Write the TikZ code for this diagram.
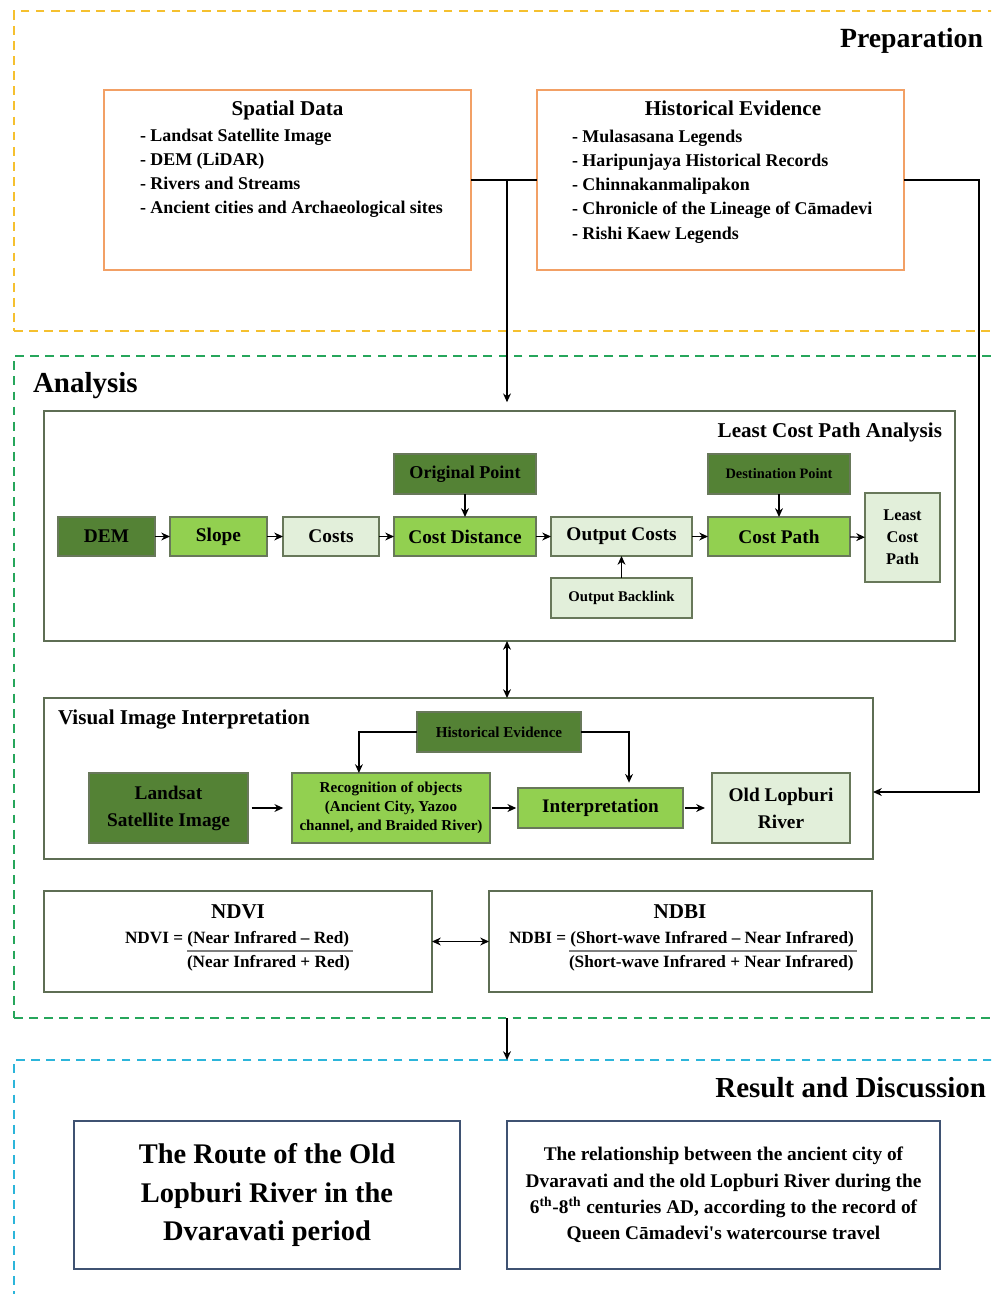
\documentclass[tikz,border=0pt]{standalone}
\usepackage{fontspec}
\setmainfont{Liberation Serif}
\usetikzlibrary{arrows.meta,calc}
\definecolor{yellowc}{HTML}{F5C02F}
\definecolor{greenc}{HTML}{26A65B}
\definecolor{bluec}{HTML}{2CB5DA}
\definecolor{orangec}{HTML}{F2A065}
\definecolor{dkgreen}{HTML}{548235}
\definecolor{ltgreen}{HTML}{92D050}
\definecolor{palegreen}{HTML}{E2EFDA}
\definecolor{nodeborder}{HTML}{68785A}
\definecolor{contborder}{HTML}{5E6E54}
\definecolor{slate}{HTML}{3F5272}
\newcommand\fs[2]{\fontsize{#1}{#2}\selectfont}
\newcommand\pbox[7]{\node[#6, anchor=north west, minimum width={(#4-#2)*0.02cm}, minimum height={(#5-#3)*0.02cm}] (#1) at (#2,#3) {#7};}
\tikzset{
 base/.style={inner sep=1pt, outer sep=0pt, align=center},
 frame/.style={base, dash pattern=on 5pt off 3.6pt, line width=1.3pt},
 orbox/.style={base, draw=orangec, line width=1pt},
 cont/.style={base, draw=contborder, line width=1.1pt},
 dk/.style={base, draw=nodeborder, fill=dkgreen, line width=0.8pt},
 lt/.style={base, draw=nodeborder, fill=ltgreen, line width=0.8pt},
 pl/.style={base, draw=nodeborder, fill=palegreen, line width=0.8pt},
 resbox/.style={base, draw=slate, line width=0.7pt},
 lbl/.style={inner sep=0pt, outer sep=0pt},
 arr/.style={-{Stealth[length=5pt,width=4.5pt]}, line width=0.7pt},
 arrtwo/.style={{Stealth[length=5pt,width=4.5pt]}-{Stealth[length=5pt,width=4.5pt]}, line width=0.7pt},
}
\begin{document}
\begin{tikzpicture}[x=0.02cm, y=-0.02cm, font=\bfseries]
\clip (0,0) rectangle (991,1294);
\fill[white] (0,0) rectangle (991,1294);
% frames
\pbox{prep}{14}{11}{1010}{331}{frame, draw=yellowc}{}
\pbox{ana}{14}{356}{1010}{1018}{frame, draw=greenc}{}
\pbox{res}{14}{1060}{1010}{1330}{frame, draw=bluec}{}
\node[lbl, anchor=east, font=\fs{15.8}{19}\bfseries] (tprep) at (983,41) {Preparation};
\node[lbl, anchor=west, font=\fs{16.5}{19}\bfseries] (tana) at (33,386) {Analysis};
\node[lbl, anchor=east, font=\fs{16.5}{19}\bfseries] (tres) at (986,1088) {Result and Discussion};
% preparation
\pbox{sd}{104}{90}{471}{270}{orbox}{}
\pbox{he}{537}{90}{904}{270}{orbox}{}
\node[lbl, anchor=base, font=\fs{12}{15}\bfseries] (sdt) at (287.5,116) {Spatial Data};
\node[lbl, anchor=base, font=\fs{12}{15}\bfseries] (het) at (733,116) {Historical Evidence};
\foreach \t [count=\i] in {Landsat Satellite Image, DEM (LiDAR), Rivers and Streams, Ancient cities and Archaeological sites}
  \node[lbl, anchor=base west, font=\fs{10.2}{12}\bfseries] (sd\i) at (140,{118+24*\i}) {- \t};
\foreach \t [count=\i] in {Mulasasana Legends, Haripunjaya Historical Records, Chinnakanmalipakon, Chronicle of the Lineage of Cāmadevi, Rishi Kaew Legends}
  \node[lbl, anchor=base west, font=\fs{10.2}{12}\bfseries] (he\i) at (572,{118+24.2*\i}) {- \t};
% LCP
\pbox{lcp}{44}{411}{955}{641}{cont}{}
\node[lbl, anchor=east, font=\fs{12}{14}\bfseries] (lcpt) at (942,432) {Least Cost Path Analysis};
\pbox{dem}{58}{517}{155}{556}{dk, font=\fs{11}{13}\bfseries}{DEM}
\pbox{slope}{170}{517}{267}{556}{lt, font=\fs{11}{13}\bfseries}{Slope}
\pbox{costs}{283}{517}{379}{556}{pl, font=\fs{11}{13}\bfseries}{Costs}
\pbox{cdist}{394}{517}{536}{556}{lt, font=\fs{11}{13}\bfseries}{Cost Distance}
\pbox{orig}{394}{454}{536}{494}{dk, font=\fs{10.3}{13}\bfseries}{Original Point}
\pbox{ocost}{551}{517}{692}{556}{pl, font=\fs{11}{13}\bfseries}{Output Costs}
\pbox{oback}{551}{578}{692}{618}{pl, font=\fs{8.4}{10}\bfseries}{Output Backlink}
\pbox{dest}{708}{454}{850}{494}{dk, font=\fs{8.2}{10}\bfseries}{Destination Point}
\pbox{cpath}{708}{517}{850}{556}{lt, font=\fs{11}{13}\bfseries}{Cost Path}
\pbox{lcpn}{865}{493}{940}{582}{pl, font=\fs{9.3}{12.5}\bfseries}{Least\\Cost\\Path}
\draw[arr] (dem) -- (slope);
\draw[arr] (slope) -- (costs);
\draw[arr] (costs) -- (cdist);
\draw[arr] (cdist) -- (ocost);
\draw[arr] (ocost) -- (cpath);
\draw[arr] (cpath) -- (lcpn);
\draw[arr] (orig) -- (cdist);
\draw[arr] (dest) -- (cpath);
\draw[arr] (oback) -- (ocost);
% visual interpretation
\pbox{vii}{44}{698}{873}{859}{cont}{}
\node[lbl, anchor=west, font=\fs{12}{14}\bfseries] (viit) at (58,720) {Visual Image Interpretation};
\pbox{hev}{417}{712}{581}{752}{dk, font=\fs{8.6}{10}\bfseries}{Historical Evidence}
\pbox{land}{89}{773}{248}{843}{dk, font=\fs{11}{15.3}\bfseries}{Landsat\\Satellite Image}
\pbox{rec}{292}{773}{490}{843}{lt, font=\fs{8.6}{10.8}\bfseries}{Recognition of objects\\(Ancient City, Yazoo\\channel, and Braided River)}
\pbox{interp}{518}{788}{683}{828}{lt, font=\fs{10.9}{13}\bfseries}{Interpretation}
\pbox{olr}{712}{773}{850}{843}{pl, font=\fs{11}{15.3}\bfseries}{Old Lopburi\\River}
\draw[arr, shorten <=2pt, shorten >=5pt] (land) -- (rec);
\draw[arr, shorten <=1pt, shorten >=1pt] (rec.east |- interp.west) -- (interp.west);
\draw[arr, shorten <=1pt, shorten >=4pt] (interp) -- (olr.west |- interp.east);
\draw[arr] (hev.west) -| ($(rec.north west)!0.338!(rec.north east)$);
\draw[arr, shorten >=3pt] (hev.east) -| ($(interp.north west)!0.673!(interp.north east)$);
% NDVI / NDBI
\pbox{ndvi}{44}{891}{432}{992}{cont, line width=0.9pt}{}
\pbox{ndbi}{489}{891}{872}{992}{cont, line width=0.9pt}{}
\node[lbl, font=\fs{12}{14}\bfseries] (ndvit) at (238,912) {NDVI};
\node[lbl, font=\fs{12}{14}\bfseries] (ndbit) at (680,912) {NDBI};
\node[lbl, anchor=west, font=\fs{9.8}{12}\bfseries] (ndvin) at (125,939) {NDVI = (Near Infrared -- Red)};
\node[lbl, anchor=west, font=\fs{9.8}{12}\bfseries] (ndvid) at (187,963) {(Near Infrared + Red)};
\node[lbl, anchor=west, font=\fs{9.8}{12}\bfseries] (ndbin) at (509,939) {NDBI = (Short-wave Infrared -- Near Infrared)};
\node[lbl, anchor=west, font=\fs{9.8}{12}\bfseries] (ndbid) at (569,963) {(Short-wave Infrared + Near Infrared)};
\coordinate (barv) at (0,951);
\draw[gray, line width=0.6pt] (ndvid.west |- barv) -- ([xshift=2pt]ndvin.east |- barv);
\draw[gray, line width=0.6pt] (ndbid.west |- barv) -- ([xshift=2pt]ndbin.east |- barv);
\draw[arrtwo] (ndvi.east) -- (ndbi.west);
% results
\pbox{route}{74}{1121}{460}{1269}{resbox, font=\fs{16.2}{22}\bfseries}{The Route of the Old\\Lopburi River in the\\Dvaravati period}
\pbox{rel}{507}{1121}{940}{1269}{resbox, font=\fs{11}{15}\bfseries}{The relationship between the ancient city of\\Dvaravati and the old Lopburi River during the\\6\textsuperscript{th}-8\textsuperscript{th} centuries AD, according to the record of\\Queen Cāmadevi\textquotesingle s watercourse travel}
% connectors between stages
\coordinate (j1) at (507,180);
\draw[line width=0.7pt] (sd.east) -- (he.west);
\draw[arr, shorten >=5pt] (j1) -- (lcp.north -| j1);
\coordinate (c2) at (979,792);
\draw[arr] (he.east) -| (c2) -- (vii.east |- c2);
\draw[arrtwo] (lcp.south -| j1) -- (vii.north -| j1);
\draw[arr] (ana.south -| j1) -- (res.north -| j1);
\end{tikzpicture}
\end{document}
